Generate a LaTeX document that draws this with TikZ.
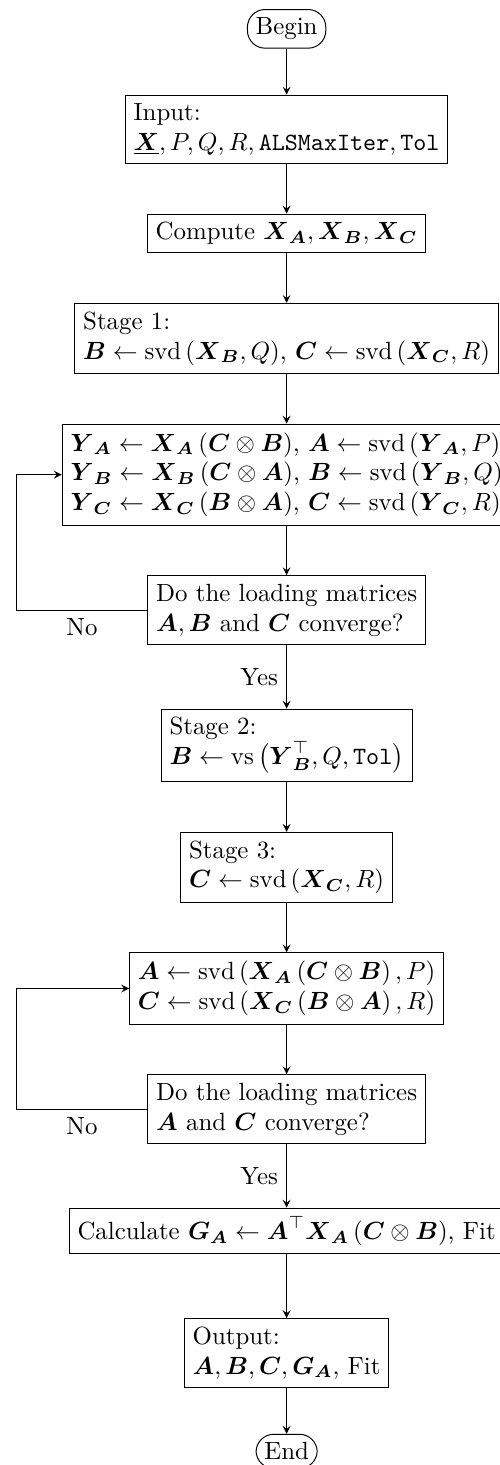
\documentclass[tikz,border=0pt]{standalone}
\usepackage{amsmath}
\usepackage{amssymb}
\usetikzlibrary{shapes,arrows,positioning,calc}

\newcommand{\bA}{\boldsymbol{A}}
\newcommand{\bB}{\boldsymbol{B}}
\newcommand{\bC}{\boldsymbol{C}}
\newcommand{\bG}{\boldsymbol{G}}
\newcommand{\bX}{\boldsymbol{X}}
\newcommand{\bY}{\boldsymbol{Y}}

\begin{document}
\begin{tikzpicture}[
    node distance=7mm,
    box/.style={rectangle, draw=black, align=left},
    term/.style={rectangle, rounded corners=2.5mm, draw=black},
    arrow/.style={->, >=stealth}
]

% Start and input
\node[term] (begin) at (0,0) {Begin};
\node[box, below=6.5mm of begin] (input) {Input:\\ $\underline{\bX}, P, Q, R, \mathtt{ALSMaxIter}, \mathtt{Tol}$};
\node[box, below=of input] (compute) {Compute $\bX_{\bA}, \bX_{\bB}, \bX_{\bC}$};

% Stage 1 and ALS loop
\node[box, below=of compute] (stage1) {Stage 1:\\ $\bB \leftarrow \operatorname{svd}\left(\bX_{\bB}, Q\right)$, $\bC \leftarrow \operatorname{svd}\left(\bX_{\bC}, R\right)$};
\node[box, below=of stage1] (update) {$\bY_{\bA} \leftarrow \bX_{\bA}\left(\bC \otimes \bB\right)$, $\bA \leftarrow \operatorname{svd}\left(\bY_{\bA}, P\right)$\\
    $\bY_{\bB} \leftarrow \bX_{\bB}\left(\bC \otimes \bA\right)$, $\bB \leftarrow \operatorname{svd}\left(\bY_{\bB}, Q\right)$\\
    $\bY_{\bC} \leftarrow \bX_{\bC}\left(\bB \otimes \bA\right)$, $\bC \leftarrow \operatorname{svd}\left(\bY_{\bC}, R\right)$};
\node[box, below=of update] (check1) {Do the loading matrices\\ $\bA, \bB$ and $\bC$ converge?};

% Stage 2 and 3
\node[box, below=9mm of check1] (stage2) {Stage 2:\\ $\bB \leftarrow \operatorname{vs}\,\bigl(\bY_{\bB}^{\top}, Q, \mathtt{Tol}\bigr)$};
\node[box, below=of stage2] (stage3) {Stage 3:\\ $\bC \leftarrow \operatorname{svd}\left(\bX_{\bC}, R\right)$};
\node[box, below=of stage3] (refine) {$\bA \leftarrow \operatorname{svd}\left(\bX_{\bA}\left(\bC \otimes \bB\right), P\right)$\\
    $\bC \leftarrow \operatorname{svd}\left(\bX_{\bC}\left(\bB \otimes \bA\right), R\right)$};
\node[box, below=of refine] (check2) {Do the loading matrices\\ $\bA$ and $\bC$ converge?};

% Result
\node[box, below=9mm of check2] (calc) {Calculate $\bG_{\bA} \leftarrow \bA^{\top}\bX_{\bA}\left(\bC \otimes \bB\right)$, Fit};
\node[box, below=9mm of calc] (output) {Output:\\ $\bA, \bB, \bC, \bG_{\bA}$, Fit};
\node[term, below=6.5mm of output] (end) {End};

% Arrows
\draw[arrow] (begin) -- (input);
\draw[arrow] (input) -- (compute);
\draw[arrow] (compute) -- (stage1);
\draw[arrow] (stage1) -- (update);
\draw[arrow] (update) -- (check1);
\draw[arrow] (check1) -- node[left] {Yes} (stage2);
\draw[arrow] (check1.west) -- node[below] {No} ++(-52.6pt,0) |- (update.west);
\draw[arrow] (stage2) -- (stage3);
\draw[arrow] (stage3) -- (refine);
\draw[arrow] (refine) -- (check2);
\draw[arrow] (check2) -- node[left] {Yes} (calc);
\draw[arrow] (check2.west) -- node[below] {No} ++(-52.6pt,0) |- (refine.west);
\draw[arrow] (calc) -- (output);
\draw[arrow] (output) -- (end);

\pgfresetboundingbox
\useasboundingbox ($(begin.center)+(-115.3pt,11.6pt)$) rectangle ($(end.center)+(85.5pt,-5.5pt)$);

\end{tikzpicture}
\end{document}
